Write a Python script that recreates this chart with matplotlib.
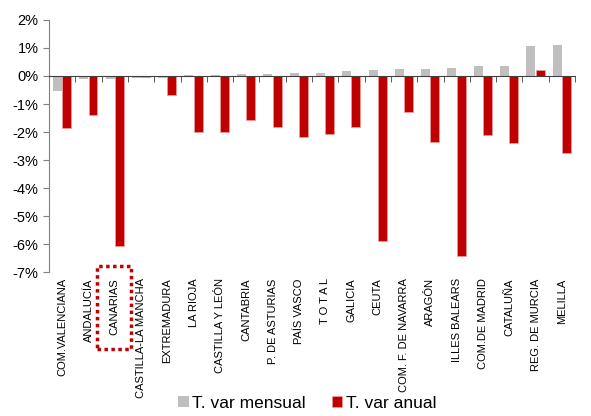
import numpy as np
import matplotlib
matplotlib.use("Agg")
import matplotlib.pyplot as plt
from matplotlib.patches import Rectangle
from matplotlib.transforms import blended_transform_factory

plt.rcParams['font.family'] = ['Liberation Sans', 'DejaVu Sans']

regiones = ["COM.VALENCIANA", "ANDALUCÍA", "CANARIAS", "CASTILLA-LA MANCHA",
            "EXTREMADURA", "LA RIOJA", "CASTILLA Y LEÓN", "CANTABRIA",
            "P. DE ASTURIAS", "PAÍS VASCO", "T O T A L", "GALICIA", "CEUTA",
            "COM. F. DE NAVARRA", "ARAGÓN", "ILLES BALEARS", "COM.DE MADRID",
            "CATALUÑA", "REG. DE MURCIA", "MELILLA"]
mensual = [-0.55, -0.12, -0.10, -0.08, -0.08, 0.04, 0.05, 0.07, 0.07, 0.09,
           0.12, 0.18, 0.20, 0.24, 0.25, 0.27, 0.36, 0.37, 1.07, 1.10]
anual = [-1.86, -1.38, -6.08, -0.04, -0.68, -2.00, -2.00, -1.58, -1.83, -2.19,
         -2.07, -1.81, -5.88, -1.29, -2.35, -6.44, -2.11, -2.38, 0.20, -2.76]

gris = "#BFBFBF"
rojo = "#C00000"

fig = plt.figure(figsize=(5.91, 4.16), dpi=100)
ax = fig.add_axes([0.083, 0.346, 0.89, 0.606])

x = np.arange(len(regiones))
w = 0.34
ax.bar(x - w / 2 - 0.01, mensual, w, color=gris, label="T. var mensual")
ax.bar(x + w / 2, anual, w, color=rojo, edgecolor="#F0A0A0", linewidth=0.5,
       label="T. var anual")

ax.set_xlim(-0.5, len(regiones) - 0.5)
ax.set_ylim(-7, 2)
ax.set_yticks(np.arange(-7, 3, 1))
ax.set_yticklabels([f"{v}%" for v in range(-7, 3)], fontsize=10.5)
ax.tick_params(axis="y", length=4, color="#808080")

# eje x en el cero, marcas entre categorias
for s in ["top", "right"]:
    ax.spines[s].set_visible(False)
ax.spines["left"].set_color("#808080")
ax.spines["bottom"].set_position(("data", 0))
ax.spines["bottom"].set_color("#404040")
ax.set_xticks(x)
ax.set_xticklabels([])
ax.tick_params(axis="x", which="major", length=0)
ax.set_xticks(np.arange(-0.5, len(regiones)), minor=True)
ax.tick_params(axis="x", which="minor", length=4, direction="out", color="#404040")

tr = blended_transform_factory(ax.transData, ax.transAxes)
for i, r in enumerate(regiones):
    ax.text(i, -0.025, r, transform=tr, rotation=90, ha="center", va="top",
            fontsize=8)

# recuadro punteado en CANARIAS
fig.patches.append(Rectangle((97 / 591, 1 - 349 / 416), 34 / 591, 83 / 416,
                             transform=fig.transFigure, fill=False,
                             edgecolor=rojo, linestyle=(0, (1, 1)), linewidth=2.5))

fig.legend(loc="lower center", bbox_to_anchor=(0.52, -0.025), ncol=2,
           frameon=False, fontsize=12.5, handlelength=0.6, handleheight=0.6,
           handletextpad=0.2, columnspacing=1.5)

fig.savefig("out.png", dpi=100)
